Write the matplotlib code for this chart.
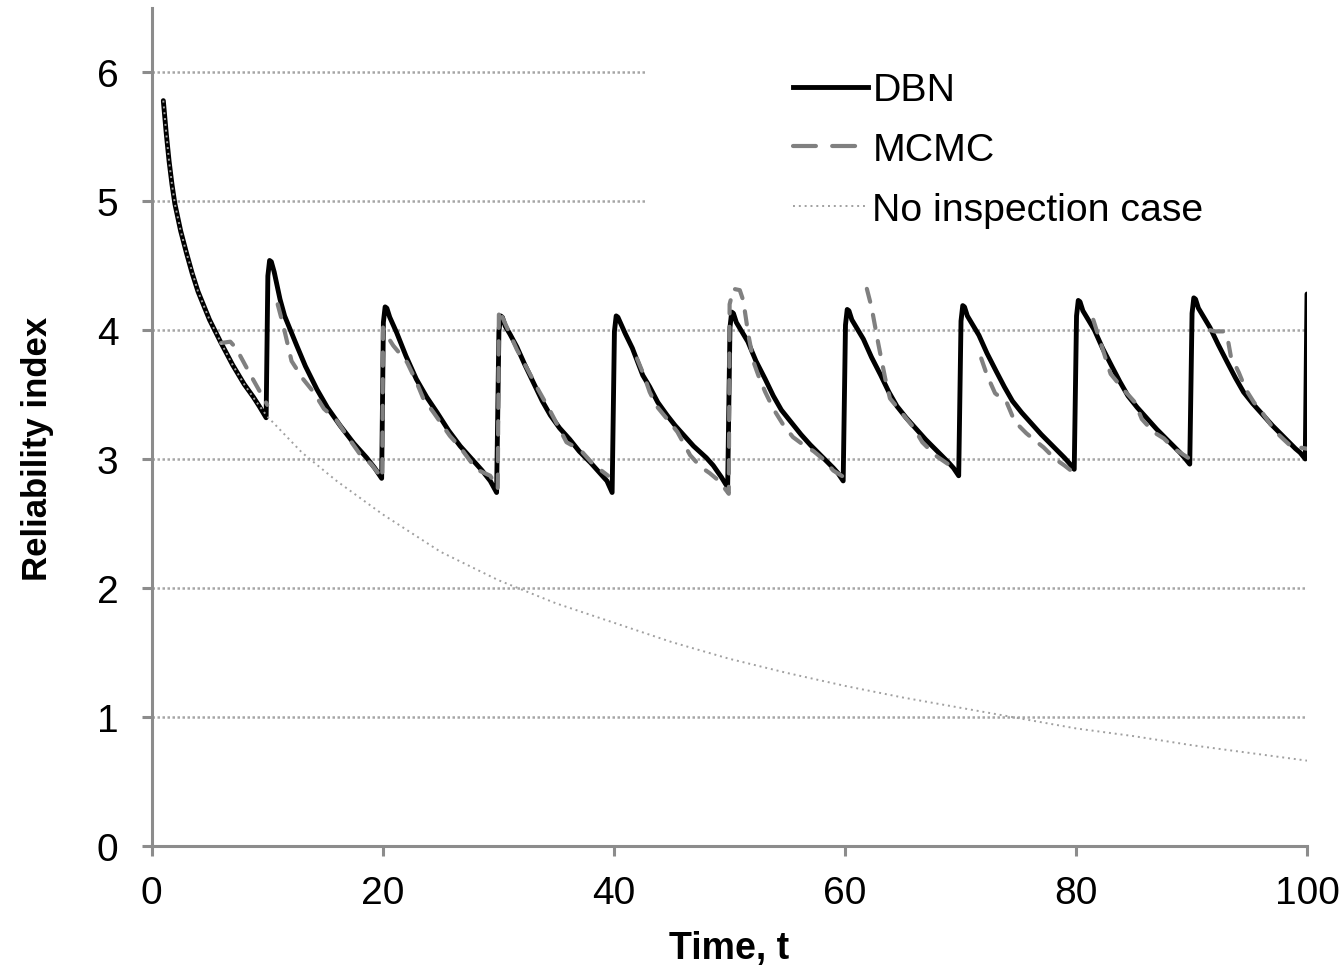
import numpy as np
import matplotlib.pyplot as plt
from matplotlib.patches import Rectangle
from matplotlib.lines import Line2D

plt.rcParams['font.family'] = ['Liberation Sans', 'DejaVu Sans']

nan = np.nan

# Cas sans inspection
t_noinsp = [1, 1.25, 1.5, 1.75, 2, 2.5, 3, 4, 5, 6, 7, 8, 9, 10, 13, 16, 20, 25, 30,
            35, 40, 45, 50, 55, 60, 65, 70, 75, 80, 85, 90, 95, 100]
y_noinsp = [5.78, 5.53, 5.31, 5.13, 4.98, 4.77, 4.60, 4.30, 4.08, 3.90, 3.73, 3.58, 3.45,
            3.33, 3.05, 2.83, 2.57, 2.28, 2.06, 1.88, 1.73, 1.58, 1.45, 1.34, 1.24,
            1.15, 1.07, 0.99, 0.91, 0.85, 0.78, 0.72, 0.66]

# DBN, un cycle par inspection
t_dbn = ([1, 1.25, 1.5, 1.75, 2, 2.5, 3, 3.5, 4, 5, 6, 7, 8, 8.8, 9.3, 9.7, 9.9]
         + [10.05, 10.2, 10.35, 10.6, 11.1, 11.5, 12.0, 12.55, 13.3, 14.3, 15.2, 16.3, 17.5, 18.6, 19.3, 19.9]
         + [20.05, 20.2, 20.35, 20.6, 21.2, 22.0, 22.9, 23.8, 24.7, 25.7, 26.7, 27.7, 28.6, 29.3, 29.85]
         + [30.05, 30.2, 30.35, 30.6, 31.0, 31.6, 32.3, 33.1, 33.8, 34.5, 35.3, 36.2, 37.0, 38.0, 39.0, 39.4, 39.85]
         + [40.05, 40.2, 40.35, 40.6, 41.0, 41.6, 42.5, 43.1, 43.8, 44.6, 45.3, 46.2, 46.9, 48.0, 48.6, 49.3, 49.85]
         + [50.05, 50.2, 50.35, 50.6, 51.0, 51.6, 52.3, 53.1, 53.8, 54.5, 55.3, 56.2, 57.0, 58.0, 59.0, 59.4, 59.85]
         + [60.05, 60.2, 60.35, 60.6, 61.0, 61.6, 62.3, 63.1, 63.8, 64.5, 65.3, 66.2, 67.0, 68.0, 69.0, 69.4, 69.85]
         + [70.05, 70.2, 70.35, 70.6, 71.0, 71.6, 72.3, 73.1, 73.8, 74.5, 75.3, 76.2, 77.0, 78.0, 79.0, 79.4, 79.85]
         + [80.05, 80.2, 80.35, 80.6, 81.0, 81.6, 82.3, 83.1, 83.8, 84.5, 85.3, 86.2, 87.0, 88.0, 89.0, 89.4, 89.85]
         + [90.05, 90.2, 90.35, 90.6, 91.0, 91.6, 92.3, 93.1, 93.8, 94.5, 95.3, 96.2, 97.0, 98.0, 99.0, 99.4, 99.85]
         + [100.0])
y_dbn = ([5.78, 5.53, 5.31, 5.13, 4.98, 4.77, 4.60, 4.44, 4.30, 4.08, 3.90, 3.73, 3.58, 3.48, 3.41, 3.35, 3.32]
         + [4.42, 4.54, 4.53, 4.45, 4.24, 4.11, 4.00, 3.88, 3.72, 3.54, 3.40, 3.26, 3.12, 3.01, 2.93, 2.85]
         + [4.06, 4.18, 4.17, 4.10, 3.98, 3.80, 3.62, 3.48, 3.36, 3.22, 3.10, 3.00, 2.91, 2.83, 2.74]
         + [3.99, 4.11, 4.10, 4.03, 3.97, 3.87, 3.73, 3.58, 3.45, 3.34, 3.24, 3.15, 3.06, 2.97, 2.87, 2.83, 2.74]
         + [3.99, 4.11, 4.10, 4.05, 3.97, 3.86, 3.65, 3.56, 3.44, 3.34, 3.26, 3.17, 3.10, 3.01, 2.95, 2.86, 2.78]
         + [4.02, 4.14, 4.13, 4.06, 4.00, 3.91, 3.76, 3.62, 3.49, 3.38, 3.29, 3.19, 3.11, 3.02, 2.93, 2.89, 2.83]
         + [4.04, 4.16, 4.15, 4.08, 4.02, 3.93, 3.79, 3.65, 3.52, 3.41, 3.32, 3.23, 3.15, 3.06, 2.97, 2.93, 2.87]
         + [4.07, 4.19, 4.18, 4.11, 4.05, 3.96, 3.82, 3.68, 3.56, 3.45, 3.36, 3.27, 3.19, 3.10, 3.01, 2.97, 2.92]
         + [4.11, 4.23, 4.22, 4.15, 4.09, 4.00, 3.86, 3.72, 3.60, 3.49, 3.40, 3.31, 3.23, 3.14, 3.05, 3.01, 2.96]
         + [4.13, 4.25, 4.24, 4.17, 4.11, 4.02, 3.89, 3.75, 3.63, 3.52, 3.43, 3.34, 3.26, 3.17, 3.08, 3.05, 3.00]
         + [4.28])

# MCMC (segments séparés par nan)
t_mcmc = ([6.0, 6.8, 7.3, 8.5, 10.0, nan]
          + [10.9, 11.4, 12.1, 13.1, 14.0, 14.9, 16.0, 16.9, 18.0, 19.0, 19.95,
             20.02, 20.2, 20.9, 22.1, 22.9, 23.5, 24.4, 25.8, 26.7, 28.1, 29.3, 29.95,
             30.05, 30.7, 31.6, 32.5, 33.5, 34.5, 35.9, 37.1, 38.2, 39.5, nan]
          + [42.0, 42.6, 43.1, 43.7, 44.7, 45.5, 46.6, 47.5, 48.3, 49.1, 49.95,
             50.02, 50.35, 50.9, 51.2, 51.65, 52.1, 52.5, 53.1, 53.8, 54.7, 55.5,
             56.4, 57.3, 58.1, 59.0, 59.9, nan]
          + [61.9, 62.3, 62.9, 63.5, 63.9, 64.9, 65.9, 66.7, 67.8, 69.1, nan]
          + [71.8, 72.3, 73.0, 74.0, 74.7, 75.7, 76.5, 77.2, 78.2, 79.0, 80.0, nan]
          + [81.5, 83.0, 84.1, 85.1, 85.7, 86.7, 87.6, 88.5, 89.7, nan]
          + [91.6, 92.0, 92.8, 93.1, 93.4, 94.1, 94.7, 95.4, 96.2, 97.3, 98.0, 98.6, 100.0])
y_mcmc = ([3.90, 3.91, 3.86, 3.66, 3.42, nan]
          + [4.20, 4.03, 3.76, 3.62, 3.52, 3.39, 3.30, 3.18, 3.04, 2.96, 2.85,
             4.02, 3.98, 3.88, 3.75, 3.60, 3.47, 3.36, 3.18, 3.09, 2.92, 2.87, 2.77,
             4.16, 4.03, 3.85, 3.70, 3.53, 3.37, 3.13, 3.07, 2.96, 2.87, nan]
          + [3.78, 3.65, 3.52, 3.41, 3.30, 3.21, 3.03, 2.94, 2.89, 2.83, 2.73,
             4.20, 4.32, 4.31, 4.23, 3.96, 3.75, 3.65, 3.52, 3.39, 3.26, 3.17,
             3.11, 3.06, 3.00, 2.91, 2.86, nan]
          + [4.32, 4.18, 3.89, 3.62, 3.47, 3.36, 3.25, 3.13, 3.03, 2.95, nan]
          + [3.78, 3.65, 3.51, 3.44, 3.29, 3.20, 3.14, 3.09, 3.00, 2.95, 2.88, nan]
          + [4.08, 3.66, 3.54, 3.44, 3.31, 3.21, 3.16, 3.08, 3.01, nan]
          + [4.00, 3.99, 3.99, 3.95, 3.80, 3.67, 3.54, 3.44, 3.35, 3.21, 3.15, 3.10, 3.08])

gris_axe = '#8c8c8c'
gris_mcmc = '#808080'
gris_sans = '#a0a0a0'

fig = plt.figure(figsize=(13.43, 9.70), dpi=100)
ax = fig.add_axes([0.1130, 0.1271, 0.8602, 0.8638])

ax.plot(t_dbn, y_dbn, color='black', lw=3.5, solid_joinstyle='round',
        solid_capstyle='round', zorder=3)
ax.plot(t_mcmc, y_mcmc, color=gris_mcmc, lw=3.0, linestyle=(0, (3.2, 3.2)),
        dash_capstyle='round', zorder=4)
ax.plot(t_noinsp, y_noinsp, color=gris_sans, lw=1.4, linestyle=(0, (1, 2)), zorder=5)

ax.set_xlim(0, 100)
ax.set_ylim(0, 6.5)
ax.set_xticks([0, 20, 40, 60, 80, 100])
ax.set_yticks([0, 1, 2, 3, 4, 5, 6])

ax.set_axisbelow(True)
ax.yaxis.grid(True, color='#a6a6a6', lw=1.8, linestyle=(0, (1, 1)))

# fond blanc de la légende (cache la grille)
ax.add_patch(Rectangle((0.427, 0.72), 0.6, 0.3, transform=ax.transAxes,
                       facecolor='white', edgecolor='none', zorder=1))

for s in ['top', 'right']:
    ax.spines[s].set_visible(False)
for s in ['left', 'bottom']:
    ax.spines[s].set_color(gris_axe)
    ax.spines[s].set_linewidth(2.2)

ax.tick_params(axis='both', direction='out', length=7, width=2.2, color=gris_axe,
               labelsize=28, labelcolor='black')
ax.tick_params(axis='y', pad=17)
ax.tick_params(axis='x', pad=14)

ax.set_xlabel('Time, t', fontsize=27, fontweight='bold', labelpad=14)
ax.set_ylabel('Reliability index', fontsize=25, fontweight='bold', va='center')
ax.yaxis.set_label_coords(-0.0993, 0.4746)

# poignées de légende
h_dbn = Line2D([], [], color='black', lw=3.5)
h_mcmc = Line2D([], [], color=gris_mcmc, lw=3.0, linestyle=(0, (5.5, 3.9)),
                dash_capstyle='round')
h_sans = Line2D([], [], color=gris_sans, lw=1.4, linestyle=(0, (1, 2)))

ax.legend([h_dbn, h_mcmc, h_sans], ['DBN', 'MCMC', 'No inspection case'],
          loc='upper left', bbox_to_anchor=(0.555, 0.923), frameon=False,
          fontsize=28.3, handlelength=1.9, handletextpad=0.12,
          labelspacing=0.6, borderpad=0, borderaxespad=0)

fig.savefig('out.png', dpi=100)
